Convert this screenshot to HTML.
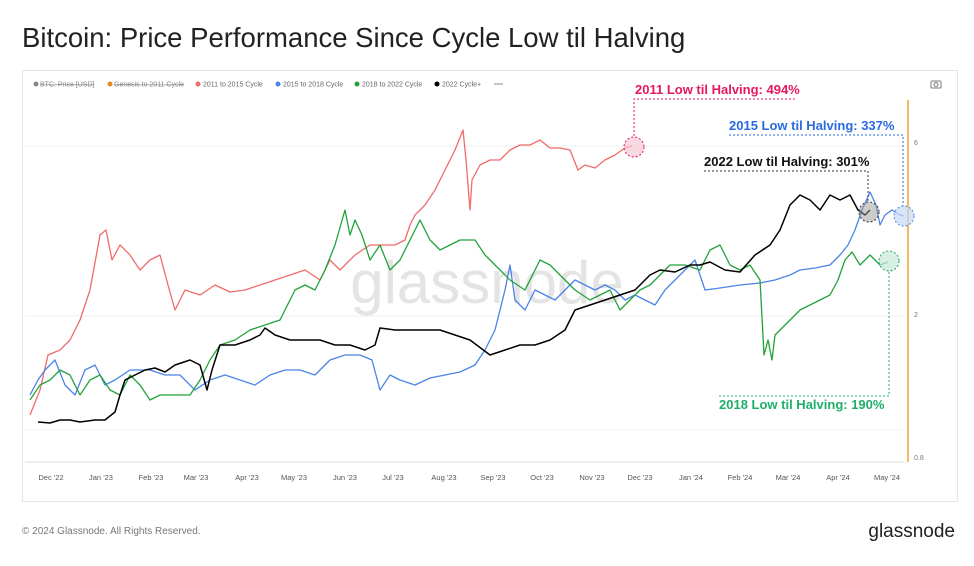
<!DOCTYPE html><html><head><style>body{margin:0;width:974px;height:561px;background:#fff;overflow:hidden;font-family:"Liberation Sans",sans-serif}</style></head><body>
<svg width="974" height="561" xmlns="http://www.w3.org/2000/svg" font-family="Liberation Sans, sans-serif">
<text x="22" y="47" font-size="27.5" fill="#222">Bitcoin: Price Performance Since Cycle Low til Halving</text>
<rect x="22.5" y="70.5" width="935" height="431" fill="#fff" stroke="#e6e6e6"/>
<g font-size="7" fill="#666">
<circle cx="36" cy="84" r="2.5" fill="#888"/><text x="40" y="86.5" fill="#888" text-decoration="line-through">BTC: Price [USD]</text>
<circle cx="110" cy="84" r="2.5" fill="#e88a1a"/><text x="114" y="86.5" fill="#888" text-decoration="line-through">Genesis to 2011 Cycle</text>
<circle cx="198" cy="84" r="2.5" fill="#f06b6b"/><text x="203" y="86.5">2011 to 2015 Cycle</text>
<circle cx="278" cy="84" r="2.5" fill="#4a84e8"/><text x="283" y="86.5">2015 to 2018 Cycle</text>
<circle cx="357" cy="84" r="2.5" fill="#22a33a"/><text x="362" y="86.5">2018 to 2022 Cycle</text>
<circle cx="437" cy="84" r="2.5" fill="#000"/><text x="442" y="86.5">2022 Cycle+</text>
<line x1="494" y1="84" x2="503" y2="84" stroke="#888"/>
</g>
<rect x="931" y="81" width="10" height="7" rx="1" fill="none" stroke="#777"/><circle cx="936" cy="84.5" r="2" fill="none" stroke="#777"/>
<g stroke="#efefef"><line x1="25" y1="146" x2="905" y2="146"/><line x1="25" y1="316" x2="905" y2="316"/><line x1="25" y1="430" x2="905" y2="430"/></g>
<line x1="25" y1="462" x2="905" y2="462" stroke="#ddd"/>
<text x="487" y="303" font-size="60" fill="#e4e4e4" text-anchor="middle">glassnode</text>
<g fill="none" stroke-width="1.3" stroke-linejoin="round">
<polyline stroke="#f06b6b" points="30,415 40,390 48,355 60,350 70,340 80,320 90,290 100,235 106,230 112,260 120,245 130,255 140,270 150,260 160,255 168,285 175,310 185,290 200,295 215,285 230,292 245,290 260,285 275,280 290,275 305,270 320,280 330,260 340,270 355,255 370,245 385,245 395,245 405,240 410,225 415,215 425,205 435,190 445,170 455,150 463,130 466,160 470,210 472,180 480,165 490,160 500,160 510,150 520,145 530,145 540,140 550,148 560,148 570,150 578,170 585,165 595,168 605,160 615,155 625,148 632,146"/>
<polyline stroke="#4a84e8" points="30,395 38,380 45,370 55,360 65,385 75,395 85,370 95,365 105,385 115,380 130,370 150,370 165,375 180,375 195,390 210,380 225,375 240,380 255,385 270,375 285,370 300,370 315,375 330,360 345,355 360,355 372,360 380,390 390,375 400,380 415,385 430,378 445,375 460,372 475,365 485,350 495,330 500,310 505,290 510,265 515,300 525,310 535,290 545,295 555,300 565,290 575,280 585,285 595,290 605,285 615,290 625,300 635,295 645,300 655,305 665,290 680,275 695,260 705,290 720,288 740,285 760,283 775,280 790,275 800,270 815,268 830,265 840,255 848,245 855,230 862,210 870,192 876,205 880,225 885,215 892,210 900,215 904,216"/>
<polyline stroke="#22a33a" points="30,400 40,385 50,380 60,370 70,375 80,395 90,380 100,375 110,390 120,395 130,375 140,385 150,400 160,395 175,395 190,395 200,380 210,360 220,345 235,340 250,330 265,325 280,320 295,290 305,285 315,290 325,270 335,245 345,210 350,235 355,220 362,235 370,260 380,245 390,270 400,260 410,240 420,220 430,240 440,250 450,245 460,240 475,240 485,255 495,265 510,280 525,290 540,260 550,265 560,275 575,290 590,300 600,295 610,290 620,310 630,300 640,290 650,285 660,275 670,265 685,265 700,270 710,250 720,245 730,265 740,270 750,265 760,280 764,355 768,340 772,360 775,335 780,330 790,320 800,310 810,305 820,300 830,295 838,280 845,260 852,252 860,265 870,255 880,265 888,262"/>
<polyline stroke="#000" stroke-width="1.5" points="38,422 50,423 60,420 70,420 80,422 95,420 105,420 115,412 120,395 125,380 135,375 145,370 155,368 165,372 175,365 190,360 200,365 207,390 212,370 220,345 235,345 250,340 260,335 265,328 275,335 290,340 305,340 320,340 335,345 350,345 365,350 375,345 380,328 395,330 410,330 425,330 440,330 455,335 470,340 490,355 505,350 520,345 535,345 550,340 565,330 575,310 590,305 605,300 620,295 635,290 650,275 660,270 675,272 690,265 700,265 710,262 725,270 740,272 755,255 770,245 780,230 790,205 800,195 810,200 820,210 830,195 840,200 850,195 858,210 865,215 870,210"/>
</g>
<line x1="908" y1="100" x2="908" y2="462" stroke="#f0a030" stroke-width="1.5"/>
<g font-size="7" fill="#777"><text x="914" y="145">6</text><text x="914" y="317">2</text><text x="914" y="460">0.8</text></g>
<g font-size="7.5" fill="#555" text-anchor="middle">
<text x="51" y="480">Dec '22</text><text x="101" y="480">Jan '23</text><text x="151" y="480">Feb '23</text><text x="196" y="480">Mar '23</text><text x="247" y="480">Apr '23</text><text x="294" y="480">May '23</text><text x="345" y="480">Jun '23</text><text x="393" y="480">Jul '23</text><text x="444" y="480">Aug '23</text><text x="493" y="480">Sep '23</text><text x="542" y="480">Oct '23</text><text x="592" y="480">Nov '23</text><text x="640" y="480">Dec '23</text><text x="691" y="480">Jan '24</text><text x="740" y="480">Feb '24</text><text x="788" y="480">Mar '24</text><text x="838" y="480">Apr '24</text><text x="887" y="480">May '24</text></g>
<g font-size="13" font-weight="bold">
<text x="635" y="94" fill="#e8175d">2011 Low til Halving: 494%</text>
<text x="729" y="130" fill="#2a6ae0">2015 Low til Halving: 337%</text>
<text x="704" y="166" fill="#111">2022 Low til Halving: 301%</text>
<text x="719" y="409" fill="#1fae6a">2018 Low til Halving: 190%</text></g>
<g fill="none" stroke-dasharray="2,2" stroke-width="1">
<polyline stroke="#e8175d" points="795,99 634,99 634,137"/>
<polyline stroke="#2a6ae0" points="729,135 903,135 903,206"/>
<polyline stroke="#333" points="704,171 868,171 868,202"/>
<polyline stroke="#1fae6a" points="719,396 889,396 889,271"/>
<circle cx="634" cy="147" r="10" stroke="#e8175d" fill="#f8c8d4" fill-opacity=".7"/>
<circle cx="904" cy="216" r="10" stroke="#4a84e8" fill="#c8d8f5" fill-opacity=".7"/>
<circle cx="869" cy="212" r="10" stroke="#333" fill="#999" fill-opacity=".5"/>
<circle cx="889" cy="261" r="10" stroke="#22a36a" fill="#c8ead8" fill-opacity=".7"/>
</g>
<text x="22" y="534" font-size="10" fill="#777">© 2024 Glassnode. All Rights Reserved.</text>
<text x="955" y="537" font-size="19" fill="#222" text-anchor="end">glassnode</text>
</svg></body></html>
